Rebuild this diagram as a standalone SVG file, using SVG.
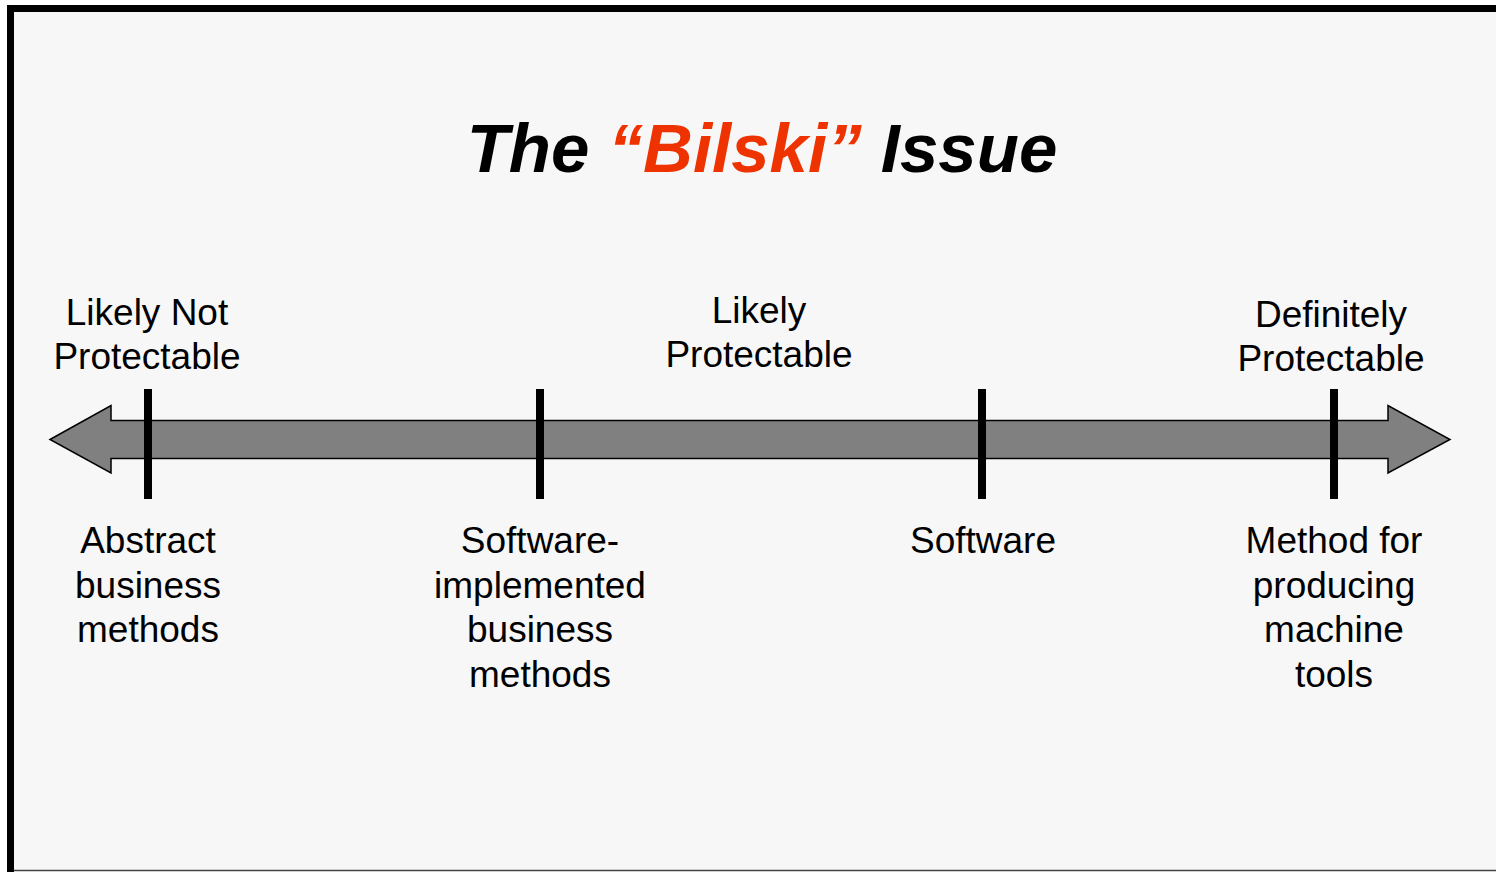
<svg xmlns="http://www.w3.org/2000/svg" width="1496" height="872" viewBox="0 0 1496 872">
<style>
.lbl{font-family:"Liberation Sans",Arial,sans-serif;font-size:37px;fill:#000;text-anchor:middle}
.tick{stroke:#000;stroke-width:8}
</style>
<rect x="0" y="0" width="1496" height="872" fill="#ffffff"/>
<rect x="10.5" y="8.5" width="1500" height="862" fill="#f7f7f7" stroke="none"/>
<line x1="7" y1="8.5" x2="1496" y2="8.5" stroke="#000" stroke-width="7"/>
<line x1="10.5" y1="5" x2="10.5" y2="872" stroke="#000" stroke-width="7"/>
<line x1="14" y1="870.5" x2="1496" y2="870.5" stroke="#444" stroke-width="1.5"/>
<g id="title">
<text x="762" y="172" text-anchor="middle" font-family="'Liberation Sans',Arial,sans-serif" font-size="69" font-weight="bold" font-style="italic" fill="#000">The <tspan fill="#ee3300">“Bilski”</tspan> Issue</text>
</g>
<g id="connectors">
<polygon id="axis" points="50,439.5 111,405.5 111,420.5 1388,420.5 1388,405.5 1450,439.5 1388,473 1388,458.5 111,458.5 111,473" fill="#808080" stroke="#000" stroke-width="1.5" stroke-linejoin="miter"/>
<line class="tick" x1="148" y1="389" x2="148" y2="499"/>
<line class="tick" x1="540" y1="389" x2="540" y2="499"/>
<line class="tick" x1="982" y1="389" x2="982" y2="499"/>
<line class="tick" x1="1334" y1="389" x2="1334" y2="499"/>
</g>
<g id="likely-not-protectable">
<text class="lbl" x="147" y="324.5">Likely Not</text>
<text class="lbl" x="147" y="368.5">Protectable</text>
</g>
<g id="likely-protectable">
<text class="lbl" x="759" y="323">Likely</text>
<text class="lbl" x="759" y="367">Protectable</text>
</g>
<g id="definitely-protectable">
<text class="lbl" x="1331" y="327">Definitely</text>
<text class="lbl" x="1331" y="371">Protectable</text>
</g>
<g id="abstract-business-methods">
<text class="lbl" x="148" y="553">Abstract</text>
<text class="lbl" x="148" y="597.5">business</text>
<text class="lbl" x="148" y="642">methods</text>
</g>
<g id="software-implemented">
<text class="lbl" x="540" y="553">Software-</text>
<text class="lbl" x="540" y="597.5">implemented</text>
<text class="lbl" x="540" y="642">business</text>
<text class="lbl" x="540" y="686.5">methods</text>
</g>
<g id="software">
<text class="lbl" x="983" y="553">Software</text>
</g>
<g id="method-machine-tools">
<text class="lbl" x="1334" y="553">Method for</text>
<text class="lbl" x="1334" y="597.5">producing</text>
<text class="lbl" x="1334" y="642">machine</text>
<text class="lbl" x="1334" y="686.5">tools</text>
</g>
</svg>
